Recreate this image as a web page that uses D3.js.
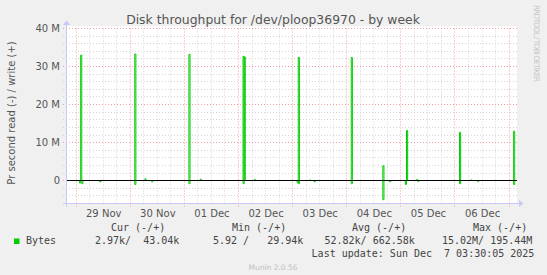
<!DOCTYPE html>
<html><head><meta charset="utf-8">
<script src="https://cdn.jsdelivr.net/npm/d3@7"></script>
<style>
html,body{margin:0;padding:0;background:#f0f0f0;}
svg{display:block;}
text{font-family:"DejaVu Sans",sans-serif;}
.mono{font-family:"DejaVu Sans Mono",monospace;font-size:10px;fill:#444;white-space:pre;}
</style></head><body>
<svg id="c" width="547" height="275"></svg>
<script>
// ---- data ----
const title = "Disk throughput for /dev/ploop36970 - by week";
const yLabel = "Pr second read (-) / write (+)";
const startTime = "2025-11-28T19:30:00Z";
const endTime = "2025-12-07T03:30:00Z";
const yTicks = [0, 10e6, 20e6, 30e6, 40e6];
const yDomain = [-6e6, 40e6];
// write (+) events: 30-minute samples
const writeTimes = ["2025-11-29T02:00:00Z","2025-11-30T02:00:00Z","2025-11-30T06:30:00Z","2025-12-01T02:00:00Z","2025-12-01T07:00:00Z",
  "2025-12-02T02:00:00Z","2025-12-02T02:30:00Z","2025-12-02T07:00:00Z","2025-12-03T02:30:00Z","2025-12-03T07:30:00Z",
  "2025-12-04T02:00:00Z","2025-12-04T16:00:00Z","2025-12-05T02:30:00Z","2025-12-05T07:00:00Z","2025-12-06T02:00:00Z",
  "2025-12-06T07:00:00Z","2025-12-07T02:00:00Z"];
const writeValues = [33.0e6,33.3e6,0.5e6,33.2e6,0.4e6,
  32.7e6,32.5e6,0.3e6,32.4e6,0.2e6,
  32.4e6,3.9e6,13.2e6,0.3e6,12.7e6,
  0.2e6,13.0e6];
// read (-) events: 30-minute samples
const readTimes = ["2025-11-29T01:30:00Z","2025-11-29T02:30:00Z","2025-11-29T10:30:00Z","2025-11-30T02:00:00Z","2025-11-30T09:30:00Z",
  "2025-12-01T02:00:00Z","2025-12-02T02:00:00Z","2025-12-03T02:00:00Z","2025-12-03T02:30:00Z","2025-12-03T09:30:00Z",
  "2025-12-04T02:00:00Z","2025-12-04T16:00:00Z","2025-12-04T19:00:00Z","2025-12-05T02:00:00Z","2025-12-05T07:30:00Z",
  "2025-12-06T02:00:00Z","2025-12-06T10:00:00Z","2025-12-07T02:00:00Z"];
const readValues = [0.6e6,0.8e6,0.3e6,1.0e6,0.3e6,
  0.8e6,0.8e6,0.5e6,0.8e6,0.3e6,
  0.8e6,5.0e6,0.3e6,1.0e6,0.2e6,
  0.8e6,0.2e6,1.0e6];
const legendHeaders = ["Cur (-/+)","Min (-/+)","Avg (-/+)","Max (-/+)"];
const legendValues = ["2.97k/  43.04k","5.92 /   29.94k","52.82k/ 662.58k","15.02M/ 195.44M"];
const seriesName = "Bytes";
const lastUpdate = "Last update: Sun Dec  7 03:30:05 2025";
const footer = "Munin 2.0.56";
const sideText = "RRDTOOL / TOBI OETIKER";

// ---- layout ----
const L = 66, R = 517, T = 28.5, B = 203.5;
const svg = d3.select("#c");
const t0 = new Date(startTime), t1 = new Date(endTime);
const x = d3.scaleUtc().domain([t0, t1]).range([L, R]);
const y = d3.scaleLinear().domain(yDomain).range([B, T]);
const HALF = 30*60*1000;
const snap = v => Math.floor(v) + 0.5;

svg.append("rect").attr("x", L).attr("y", 26).attr("width", R - L).attr("height", B - 26).attr("fill", "#fff");

// minor grid
const minorY = d3.range(-6e6, 40e6 + 1, 2e6).filter(v => v % 10e6 !== 0);
svg.append("g").selectAll("line").data(minorY).join("line")
  .attr("x1", L - 3).attr("x2", R).attr("y1", d => snap(y(d))).attr("y2", d => snap(y(d)))
  .attr("stroke", "#d4d4d4").attr("stroke-dasharray", "1,2");
const minorX = d3.utcHour.every(6).range(t0, t1).filter(d => d.getUTCHours() !== 0);
svg.append("g").selectAll("line").data(minorX).join("line")
  .attr("x1", d => snap(x(d))).attr("x2", d => snap(x(d))).attr("y1", T).attr("y2", B + 2)
  .attr("stroke", "#d4d4d4").attr("stroke-dasharray", "1,2");
// major grid
svg.append("g").selectAll("line").data(yTicks).join("line")
  .attr("x1", L - 3).attr("x2", R).attr("y1", d => snap(y(d))).attr("y2", d => snap(y(d)))
  .attr("stroke", "#f0a0a0").attr("stroke-dasharray", "1,2");
const days = d3.utcDay.range(t0, t1);
svg.append("g").selectAll("line").data(days).join("line")
  .attr("x1", d => snap(x(d))).attr("x2", d => snap(x(d))).attr("y1", T).attr("y2", B + 3)
  .attr("stroke", "#f0a0a0").attr("stroke-dasharray", "1,2");

// series
function buildPoints(times, values, sign) {
  const ev = times.map((t, i) => ({t: new Date(t), v: values[i] * sign})).sort((a, b) => a.t - b.t);
  const pts = [[t0, 0]];
  ev.forEach(e => {
    const e1 = new Date(+e.t + HALF);
    pts.push([e.t, 0], [e.t, e.v], [e1, e.v], [e1, 0]);
  });
  pts.push([t1, 0]);
  return pts;
}
const zeroY = snap(y(0));
const line = d3.line().x(d => x(d[0])).y(d => d[1] === 0 ? zeroY : y(d[1]));
svg.append("path").attr("d", line(buildPoints(readTimes, readValues, -1)))
  .attr("fill", "none").attr("stroke", "#00cc00").attr("stroke-width", 1);
svg.append("path").attr("d", line(buildPoints(writeTimes, writeValues, 1)))
  .attr("fill", "none").attr("stroke", "#00cc00").attr("stroke-width", 1);
// zero rule
svg.append("line").attr("x1", L).attr("x2", R).attr("y1", zeroY).attr("y2", zeroY)
  .attr("stroke", "#000").attr("stroke-width", 1);

// axes lines with arrows
const ac = "#c8c8f8";
svg.append("line").attr("x1", L - 3).attr("x2", 519).attr("y1", B).attr("y2", B).attr("stroke", ac);
svg.append("path").attr("d", `M519,${B-3.5}L523.5,${B}L519,${B+3.5}Z`).attr("fill", ac);
svg.append("line").attr("x1", L + 0.5).attr("x2", L + 0.5).attr("y1", B + 3).attr("y2", 25).attr("stroke", ac);
svg.append("path").attr("d", `M${L-3},25L${L+0.5},20.5L${L+4},25Z`).attr("fill", ac);

// y axis labels
const yAxis = d3.axisLeft(y).tickValues(yTicks).tickSize(0).tickPadding(0)
  .tickFormat(d => d === 0 ? "0" : (d / 1e6) + " M");
const gy = svg.append("g").attr("transform", `translate(60,0)`).call(yAxis);
gy.select(".domain").remove();
gy.selectAll("text").attr("font-family", "DejaVu Sans").attr("font-size", 10).attr("fill", "#555");

// x axis labels at noon
const noons = days.map(d => new Date(+d + 12*3600*1000)).filter(d => d < t1);
const xAxis = d3.axisBottom(x).tickValues(noons).tickSize(0).tickPadding(0).tickFormat(d3.utcFormat("%d %b"));
const gx = svg.append("g").attr("transform", `translate(0,${B + 6})`).call(xAxis);
gx.select(".domain").remove();
gx.selectAll("text").attr("font-family", "DejaVu Sans").attr("font-size", 10).attr("fill", "#555");

// title
svg.append("text").attr("x", 273).attr("y", 24).attr("text-anchor", "middle")
  .attr("font-size", 12.4).attr("fill", "#555").text(title);
// y label
svg.append("text").attr("transform", "translate(15,113) rotate(-90)").attr("text-anchor", "middle")
  .attr("font-size", 10).attr("fill", "#555").text(yLabel);
// side text
svg.append("text").attr("transform", "translate(534,5) rotate(90)").attr("text-anchor", "start")
  .attr("font-size", 7.5).attr("textLength", 77).attr("lengthAdjust", "spacing")
  .attr("fill", "#c8c8c8").text(sideText);

// legend
const hdrX = [111, 232, 352, 473];
const valX = [95, 213, 324.5, 442];
legendHeaders.forEach((h, i) => svg.append("text").attr("class", "mono").attr("x", hdrX[i]).attr("y", 231).text(h));
legendValues.forEach((v, i) => svg.append("text").attr("class", "mono").attr("x", valX[i]).attr("y", 244).text(v));
svg.append("rect").attr("x", 14).attr("y", 238.5).attr("width", 5.5).attr("height", 5.5).attr("fill", "#00cc00");
svg.append("text").attr("class", "mono").attr("x", 26).attr("y", 244).text(seriesName);
svg.append("text").attr("class", "mono").attr("x", 311.6).attr("y", 257).text(lastUpdate);
svg.append("text").attr("x", 273).attr("y", 270).attr("text-anchor", "middle").attr("font-size", 7.5)
  .attr("fill", "#c0c0c0").text(footer);
</script>
</body></html>
